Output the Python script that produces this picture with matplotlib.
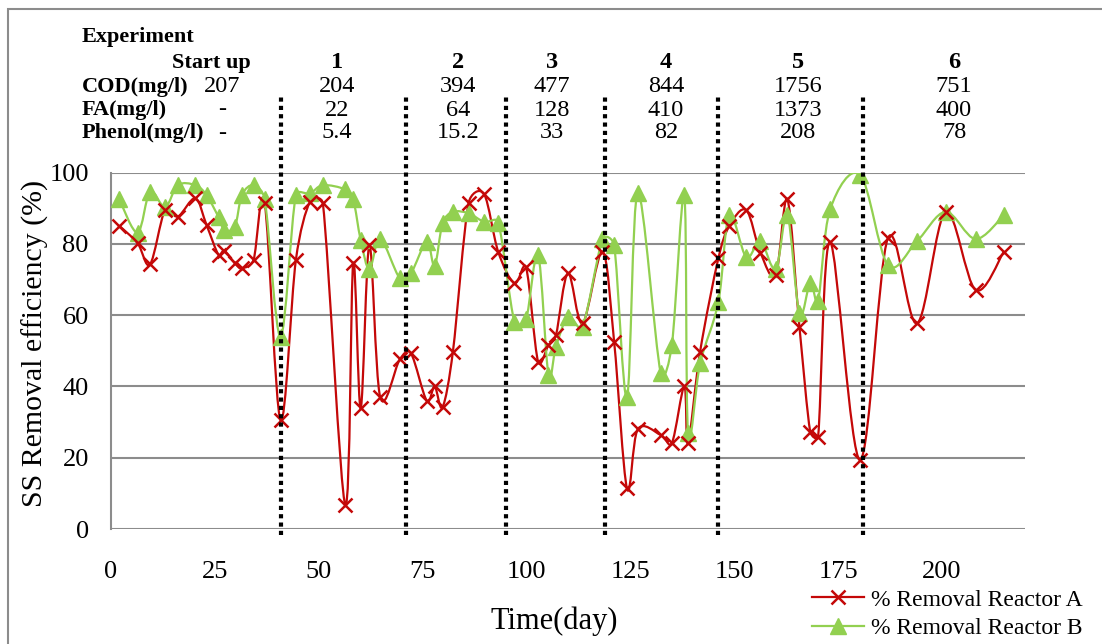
### SS removal efficiency of reactors A and B over the run ###
import numpy as np
import matplotlib.pyplot as plt
from matplotlib.path import Path
from matplotlib.patches import PathPatch, Rectangle
from matplotlib.lines import Line2D

plt.rcParams['font.family'] = ['Liberation Serif', 'DejaVu Serif']

days = [2, 6.4, 9.4, 13, 16.1, 20.3, 23, 25.9, 27.3, 29.8, 31.5, 34.3, 37,
        40.8, 44.5, 47.9, 51, 56.4, 58.3, 60.1, 62.2, 64.8, 69.5, 72.2,
        76, 77.9, 79.8, 82.3, 86.1, 89.8, 93.2, 97.1, 99.9, 102.8, 105.3,
        107.1, 110, 113.5, 118.3, 121.1, 124.2, 126.8, 132.3, 135, 138,
        138.9, 141.8, 146.2, 148.8, 152.9, 156.3, 160, 162.8, 165.7, 168.3,
        170.2, 173.1, 180.3, 187, 194, 200.9, 208.1, 214.9]
removal_a = [85.1, 80.2, 74.3, 89.5, 87.7, 92.8, 85.3, 76.9, 78.1, 74.6, 73.2,
             75.5, 91.4, 30.6, 75.5, 91.9, 91.4, 6.7, 74.6, 33.9, 79.7, 37,
             47.6, 49.3, 36, 40, 34.2, 49.8, 91.6, 94, 77.8, 69, 73.4, 47,
             51.6, 54.4, 71.8, 57.7, 77.8, 52.6, 11.4, 28, 26.4, 24.1, 40,
             24.1, 49.8, 76, 85, 89.5, 77.6, 71.3, 92.5, 56.8, 27.3, 25.9,
             80.6, 19.4, 81.6, 57.7, 89, 67.1, 77.8]
removal_b = [92.5, 83.2, 94.7, 90.3, 96.5, 96.5, 93.7, 87.5, 83.9, 84.8, 93.7,
             96.5, 92.5, 54, 93.7, 94.2, 96.5, 95.3, 92.5, 81.1, 72.9, 81.4,
             70.4, 71.8, 80.6, 73.8, 85.8, 89, 88.6, 86.2, 86, 58.2, 58.8,
             76.9, 43.2, 51.2, 59.6, 56.8, 81.3, 79.7, 37, 94.4, 43.9, 51.6,
             93.7, 26.9, 46.5, 63.8, 88.1, 76.3, 80.8, 72.9, 88.1, 60.5, 69.1,
             64.1, 89.7, 99.4, 74.1, 80.8, 89, 81.4, 88.1]

# days where a new experiment begins
stage_breaks = [41, 71, 95, 119, 146, 181]

experiments = ['Start up', '1', '2', '3', '4', '5', '6']
cod = ['207', '204', '394', '477', '844', '1756', '751']
fa = ['-', '22', '64', '128', '410', '1373', '400']
phenol = ['-', '5.4', '15.2', '33', '82', '208', '78']

W, H = 1102, 644
red = '#C40808'
green = '#92D050'
grid_c = '#8c8c8c'
X_MAX = 220


def fig_xy(x, y):
    # pixel position -> figure fraction
    return x / W, 1 - y / H


def smooth_path(x, y, sx, sy):
    ### cardinal spline through the points, as bezier pieces ###
    # worked out in pixel units so the handle cap is the same both ways
    pts = np.column_stack([np.asarray(x) * sx, np.asarray(y) * sy]).astype(float)
    n = len(pts)
    verts = [pts[0]]
    codes = [Path.MOVETO]
    for i in range(n - 1):
        p0 = pts[max(i - 1, 0)]
        p1 = pts[i]
        p2 = pts[i + 1]
        p3 = pts[min(i + 2, n - 1)]
        seg = np.hypot(*(p2 - p1))
        t1 = (p2 - p0) / 6
        t2 = (p3 - p1) / 6
        for t in (t1, t2):
            ln = np.hypot(*t)
            if ln > seg / 2 and ln > 0:
                t *= (seg / 2) / ln
        verts += [p1 + t1, p2 - t2, p2]
        codes += [Path.CURVE4] * 3
    verts = np.array(verts) / [sx, sy]
    return Path(verts, codes)


fig = plt.figure(figsize=(W / 100, H / 100), dpi=100)
ax_box = [111 / W, 1 - 529 / H, (1025 - 111) / W, (529 - 172.7) / H]
ax = fig.add_axes(ax_box)
px_day = (1025 - 111) / X_MAX
px_pct = (529 - 172.7) / 100

ax.set_xlim(0, X_MAX)
ax.set_ylim(0, 100)
ax.set_xticks(np.arange(0, 201, 25))
ax.set_yticks(np.arange(0, 101, 20))
ax.tick_params(axis='both', length=0, labelsize=19)
ax.tick_params(axis='x', pad=23)
ax.tick_params(axis='y', pad=16)
ax.yaxis.grid(True, color=grid_c, lw=1.5)
ax.set_axisbelow(True)
for s in ['top', 'right', 'bottom']:
    ax.spines[s].set_visible(False)
ax.spines['left'].set_color(grid_c)
ax.spines['left'].set_linewidth(1.5)

### smoothed lines then markers ###
ax.add_patch(PathPatch(smooth_path(days, removal_a, px_day, px_pct), fill=False,
                       ec=red, lw=1.6, zorder=3))
ax.add_patch(PathPatch(smooth_path(days, removal_b, px_day, px_pct), fill=False,
                       ec=green, lw=1.6, zorder=3))
ax.plot(days, removal_b, ls='none', marker='^', ms=12, color=green, zorder=4)
ax.plot(days, removal_a, ls='none', marker='x', ms=10, mew=1.8, color=red, zorder=5)

# experiment boundaries
ax.vlines(stage_breaks, -1.7, 121.5, colors='black', linestyles=(0, (1, 1)),
          lw=3, clip_on=False, zorder=6)

### header table ###
col_x = [222, 337, 458, 552, 666, 798, 954]
hfont = 16
vfont = 17.5
fig.text(*fig_xy(82, 37), 'Experiment', fontsize=hfont, fontweight='bold', va='center')
for i, name in enumerate(experiments):
    if i == 0:
        fig.text(*fig_xy(251, 63), name, fontsize=hfont, fontweight='bold', va='center', ha='right')
    else:
        fig.text(*fig_xy(col_x[i], 63), name, fontsize=vfont, fontweight='bold', va='center', ha='center')
rows = [('COD(mg/l)', cod, 87), ('FA(mg/l)', fa, 110), ('Phenol(mg/l)', phenol, 133)]
for label, vals, y in rows:
    fig.text(*fig_xy(82, y), label, fontsize=hfont, fontweight='bold', va='center')
    for i, v in enumerate(vals):
        fig.text(*fig_xy(col_x[i], y), v, fontsize=vfont, va='center', ha='center')

### axis titles ###
fig.text(*fig_xy(35, 343), 'SS Removal efficiency (%)', fontsize=21.5, rotation=90,
         ha='center', va='center')
fig.text(*fig_xy(554, 621), 'Time(day)', fontsize=22, ha='center', va='center')

### legend ###
handles = [Line2D([], [], color=red, lw=1.6, marker='x', ms=10, mew=1.8),
           Line2D([], [], color=green, lw=1.6, marker='^', ms=12)]
fig.legend(handles, ['% Removal Reactor A', '% Removal Reactor B'],
           loc='upper left', bbox_to_anchor=fig_xy(812, 589), frameon=False,
           fontsize=17, handlelength=2.2, handletextpad=0.3,
           labelspacing=0.3, borderpad=0, borderaxespad=0)

# outer frame
fig.patches.append(Rectangle(fig_xy(8, 700), 1.2, (700 - 9) / H, transform=fig.transFigure,
                             fill=False, ec=grid_c, lw=1.5))

fig.savefig('out.png', dpi=100)
